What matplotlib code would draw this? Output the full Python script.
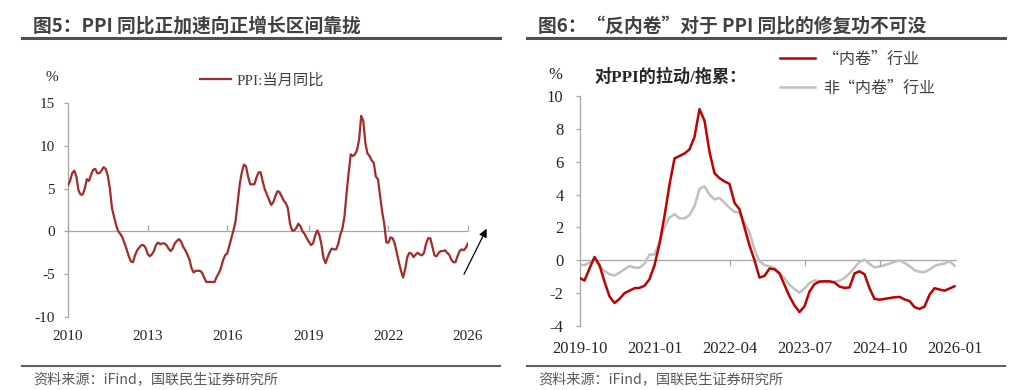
import numpy as np
import matplotlib
matplotlib.use('Agg')
import matplotlib.pyplot as plt
from matplotlib.lines import Line2D

plt.rcParams['axes.unicode_minus'] = False

# --- 图5 数据：PPI 当月同比 (2010-02 ~ 2026-01) ---
ppi_yoy = [
    5.4, 5.9, 6.8, 7.1, 6.4, 4.8, 4.3, 4.3, 5.0, 6.1, 5.9,
    6.6, 7.2, 7.3, 6.8, 6.8, 7.1, 7.5, 7.3, 6.5, 5.0, 2.7, 1.7,
    0.7, 0.0, -0.3, -0.7, -1.4, -2.1, -2.9, -3.5, -3.6, -2.8, -2.2, -1.9,
    -1.6, -1.6, -1.9, -2.6, -2.9, -2.7, -2.3, -1.6, -1.3, -1.5, -1.4, -1.4,
    -1.6, -2.0, -2.3, -2.0, -1.4, -1.1, -0.9, -1.2, -1.8, -2.2, -2.7, -3.3,
    -4.3, -4.8, -4.6, -4.6, -4.6, -4.8, -5.4, -5.9, -5.9, -5.9, -5.9, -5.9,
    -5.3, -4.9, -4.3, -3.4, -2.8, -2.6, -1.7, -0.8, 0.1, 1.2, 3.3, 5.5,
    6.9, 7.8, 7.6, 6.4, 5.5, 5.5, 5.5, 6.3, 6.9, 6.9, 5.8, 4.9,
    4.3, 3.7, 3.1, 3.4, 4.1, 4.7, 4.6, 4.1, 3.6, 3.3, 2.7, 0.9,
    0.1, 0.1, 0.4, 0.9, 0.6, 0.0, -0.3, -0.8, -1.2, -1.6, -1.4, -0.5,
    0.1, -0.4, -1.5, -3.1, -3.7, -3.0, -2.4, -2.0, -2.1, -2.1, -1.5, -0.4,
    0.3, 1.7, 4.4, 6.8, 9.0, 8.8, 9.0, 9.5, 10.7, 13.5, 12.9, 10.3,
    9.1, 8.8, 8.3, 8.0, 6.4, 6.1, 4.2, 2.3, 0.9, -1.3, -1.3, -0.7,
    -0.8, -1.4, -2.5, -3.6, -4.6, -5.4, -4.4, -3.0, -2.5, -2.6, -3.0, -2.7,
    -2.5, -2.7, -2.8, -2.5, -1.4, -0.8, -0.8, -1.8, -2.8, -2.9, -2.5, -2.3,
    -2.3, -2.2, -2.5, -2.7, -3.3, -3.6, -3.6, -2.9, -2.3, -2.1, -2.2, -1.9,
    -1.4,
]
ppi_ticks = [0, 38, 76, 115, 153, 191]
ppi_tick_labels = ['2010', '2013', '2016', '2019', '2022', '2026']

# --- 图6 数据：对PPI的拉动/拖累 (2019-10 ~ 2026-01) ---
involution = [
    -1.07, -1.23, -0.5, 0.2, -0.3, -1.3, -2.2, -2.6, -2.35, -2.0,
    -1.85, -1.7, -1.68, -1.55, -1.15, -0.3, 1.0, 2.7, 4.6, 6.2,
    6.35, 6.5, 6.75, 7.5, 9.2, 8.5, 6.6, 5.3, 5.0, 4.8,
    4.65, 3.5, 3.1, 2.0, 0.9, 0.0, -1.05, -0.95, -0.5, -0.55,
    -0.8, -1.5, -2.2, -2.75, -3.15, -2.8, -1.9, -1.45, -1.3, -1.28,
    -1.28, -1.35, -1.6, -1.68, -1.65, -0.8, -0.67, -0.85, -1.7, -2.35,
    -2.4, -2.35, -2.3, -2.25, -2.23, -2.38, -2.48, -2.85, -2.96, -2.82,
    -2.1, -1.7, -1.78, -1.85, -1.72, -1.58,
]
non_involution = [
    -0.26, -0.3, -0.15, 0.05, -0.35, -0.65, -0.85, -0.93, -0.75, -0.55,
    -0.35, -0.45, -0.45, -0.2, 0.35, 0.35, 1.1, 2.0, 2.6, 2.8,
    2.55, 2.55, 2.75, 3.3, 4.35, 4.5, 4.0, 3.7, 3.8, 3.5,
    3.2, 2.95, 2.9, 2.3, 1.7, 0.65, -0.05, -0.3, -0.36, -0.47,
    -0.77, -1.1, -1.5, -1.75, -1.98, -1.72, -1.38, -1.22, -1.28, -1.3,
    -1.34, -1.3, -1.25, -1.07, -0.8, -0.45, -0.1, 0.04, -0.22, -0.43,
    -0.38, -0.3, -0.2, -0.1, 0.0, -0.16, -0.35, -0.6, -0.7, -0.72,
    -0.57, -0.35, -0.25, -0.2, -0.06, -0.32,
]
fig6_ticks = [0, 15, 30, 45, 60, 75]
fig6_tick_labels = ['2019-10', '2021-01', '2022-04', '2023-07', '2024-10', '2026-01']

SERIF = ['Liberation Serif', 'Noto Sans CJK SC']
SANS = ['Noto Sans CJK SC', 'DejaVu Sans']
W, H = 1024, 390

def fx(px):
    return px / W

def fy(py):
    return 1 - py / H

fig = plt.figure(figsize=(W / 100, H / 100), dpi=100)

# --- 标题、分隔线、资料来源 ---
panels = [
    (22, 500, 33, '图5：PPI 同比正加速向正增长区间靠拢'),
    (527, 1005, 538, '图6：“反内卷”对于 PPI 同比的修复功不可没'),
]
for x0, x1, tx, title in panels:
    fig.text(fx(tx), fy(26), title, family=SANS, fontsize=13.5, weight='bold',
             color='#404040', va='center', ha='left')
    fig.add_artist(Line2D([fx(x0), fx(x1)], [fy(38), fy(38)], color='#505050', lw=2.2))
    fig.add_artist(Line2D([fx(x0), fx(x1)], [fy(366), fy(366)], color='#606060', lw=1.5))
    fig.text(fx(tx), fy(379), '资料来源：iFind，国联民生证券研究所', family=SANS,
             fontsize=10.2, color='#595959', va='center', ha='left')

def style_axis(ax, fsize, xpad, ypad):
    for s in ['top', 'right', 'bottom']:
        ax.spines[s].set_visible(False)
    ax.spines['left'].set_color('#A6A6A6')
    ax.spines['left'].set_linewidth(0.9)
    ax.axhline(0, color='#A6A6A6', lw=0.9, zorder=1)
    ax.tick_params(axis='y', direction='out', length=3, width=0.9, color='#A6A6A6',
                   pad=ypad, labelsize=fsize, labelcolor='#262626')
    ax.tick_params(axis='x', length=0, pad=xpad, labelsize=fsize, labelcolor='#262626')
    for lab in ax.get_xticklabels() + ax.get_yticklabels():
        lab.set_family(SERIF)

# --- 图5 ---
ax1 = fig.add_axes([fx(68), fy(317), 400 / W, 214 / H])
x1 = np.arange(len(ppi_yoy))
ax1.plot(x1, ppi_yoy, color='#A52A2A', lw=1.6, label='PPI:当月同比', zorder=3)
ax1.set_xlim(0, len(ppi_yoy) - 1)
ax1.set_ylim(-10, 15)
ax1.set_yticks(np.arange(-10, 16, 5))
ax1.set_xticks(ppi_ticks)
ax1.set_xticklabels(ppi_tick_labels)
ax1.plot(ppi_ticks, [0] * len(ppi_ticks), ls='none', marker=2, ms=4, mew=0.9,
         color='#A6A6A6', clip_on=False)
style_axis(ax1, 11, 9, 6.5)
ax1.text(-0.04, 1.12, '%', transform=ax1.transAxes, family=SERIF, fontsize=11,
         ha='center', va='center', color='#262626')
leg1 = ax1.legend(loc='center left', bbox_to_anchor=(0.33, 1.105), frameon=False,
                  handlelength=2.0, handletextpad=0.4, borderpad=0, borderaxespad=0,
                  prop={'family': SERIF, 'size': 11})
for t in leg1.get_texts():
    t.set_color('#404040')
n = len(ppi_yoy) - 1
ax1.annotate('', xy=(n + 9.5, 0.6), xytext=(n - 2.5, -5.3),
             arrowprops=dict(arrowstyle='-|>', color='black', lw=0.9, mutation_scale=12),
             annotation_clip=False)

# --- 图6 ---
ax2 = fig.add_axes([fx(579.5), fy(326), 377 / W, 230 / H])
x2 = np.arange(len(involution))
ax2.plot(x2, involution, color='#C00000', lw=1.8, label='“内卷”行业', zorder=3)
ax2.plot(x2, non_involution, color='#C0C0C0', lw=1.8, label='非“内卷”行业', zorder=2)
ax2.set_xlim(0, 75.4)
ax2.set_ylim(-4, 10)
ax2.set_yticks(np.arange(-4, 11, 2))
ax2.set_xticks(fig6_ticks)
ax2.set_xticklabels(fig6_tick_labels)
ax2.plot(fig6_ticks[1:-1], [0] * (len(fig6_ticks) - 2), ls='none', marker=3, ms=4,
         mew=0.9, color='#A6A6A6')
style_axis(ax2, 12, 10.5, 8.5)
ax2.text(-0.065, 1.091, '%', transform=ax2.transAxes, family=SERIF, fontsize=12,
         ha='center', va='center', color='#262626')
ax2.text(0.041, 1.083, '对PPI的拉动/拖累：', transform=ax2.transAxes,
         family=SERIF, fontsize=12.3, weight='bold', ha='left', va='center', color='#262626')
leg2 = ax2.legend(loc='center left', bbox_to_anchor=(0.532, 1.096), frameon=False,
                  handlelength=2.2, handletextpad=0.5, labelspacing=0.75, borderpad=0,
                  borderaxespad=0, prop={'family': SANS, 'size': 11.5})
for t in leg2.get_texts():
    t.set_color('#404040')

fig.savefig('out.png', dpi=100)
